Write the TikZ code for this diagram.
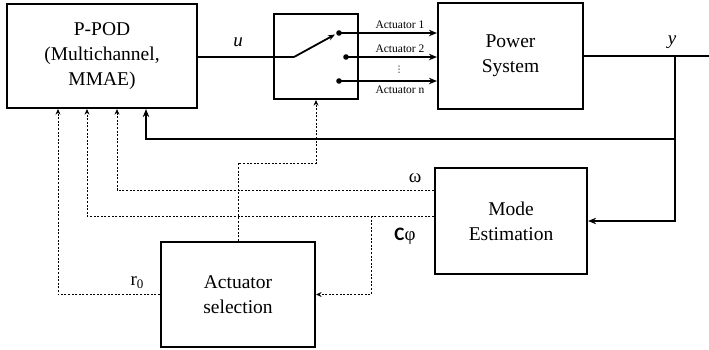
\documentclass[tikz,border=0pt]{standalone}
\usepackage{fontspec}
\setmainfont{Liberation Serif}
\newfontfamily\carlito{Carlito}
\newfontfamily\dejavu{DejaVu Sans}
\usetikzlibrary{arrows.meta,calc}
\begin{document}
\begin{tikzpicture}[x=1pt,y=-1pt,
 box/.style={draw, line width=2.2pt, inner sep=0pt, align=center, font=\fontsize{19.5}{25}\selectfont},
 sig/.style={line width=2.2pt},
 sarrow/.style={sig,-{Stealth[length=8pt,width=6.5pt]}},
 dotl/.style={line width=1pt, dash pattern=on 2pt off 1.6pt},
 darrow/.style={dotl,-{Stealth[length=5.5pt,width=5pt]}},
 small/.style={font=\fontsize{11.5}{12}\selectfont, inner sep=0pt},
 lbl/.style={font=\fontsize{19}{20}\selectfont, inner sep=0pt}
]
\useasboundingbox (0,0) rectangle (709,349);

\node[box, minimum width=190pt, minimum height=104pt] (ppod) at (102,56) {P-POD\\(Multichannel,\\MMAE)};
\node[box, minimum width=84pt, minimum height=85pt] (sw) at (316,56.5) {};
\node[box, minimum width=145pt, minimum height=106pt] (ps) at (510.5,56) {Power\\System};
\node[box, minimum width=152pt, minimum height=106pt] (me) at (511,221) {Mode\\Estimation};
\node[box, minimum width=154pt, minimum height=105pt] (as) at (238,294.5) {Actuator\\selection};

% switch
\coordinate (piv) at (294,57);
\coordinate (d1) at (339,33);
\coordinate (d2) at (346,57);
\coordinate (d3) at (339,81);
\coordinate (swtip) at (335,34.5);
\draw[sig] (ppod.east |- piv) -- (piv);
\draw[line width=1.8pt,-{Stealth[length=7pt,width=5.5pt]}] (piv) -- (swtip);
\foreach \d in {d1,d2,d3} \fill (\d) circle (2.8pt);
\draw[sarrow] (d1) -- (ps.west |- d1);
\draw[sarrow] (d2) -- (ps.west |- d2);
\draw[sarrow] (d3) -- (ps.west |- d3);
\node[small] (a1) at (400,25) {Actuator 1};
\node[small] (a2) at (400,49) {Actuator 2};
\node[font=\dejavu\fontsize{9}{9}\selectfont, inner sep=0pt] (av) at (399,70) {⋮};
\node[small] (an) at (400,90) {Actuator n};

\node[lbl, font=\fontsize{19}{20}\selectfont\itshape] (u) at (238,42) {u};
\node[lbl, font=\fontsize{19}{20}\selectfont\itshape] (ylab) at (672,42) {y};

% output and feedback
\coordinate (br) at (675,56);
\coordinate (yend) at (709,56);
\coordinate (fb) at (146,139);
\draw[sig] (ps.east) -- (yend);
\draw[sarrow] (br) |- (fb) -- (fb |- ppod.south);
\draw[sarrow] (br) |- (me.east);

% dotted signals
\coordinate (wL) at (117,190);
\coordinate (cL) at (87,216);
\coordinate (cB) at (371,216);
\coordinate (rL) at (58,295);
\coordinate (k) at (238,163);
\draw[darrow] (me.west |- wL) -- (wL) -- (wL |- ppod.south);
\draw[darrow] (me.west |- cL) -- (cL) -- (cL |- ppod.south);
\draw[darrow] (cB) |- (as.east);
\draw[darrow] (as.west) -| (rL |- ppod.south);
\draw[darrow] (as.north) -- (k) -| (sw.south);

\node[lbl] (wlab) at (415,178) {ω};
\node[lbl] (clab) at (405,236) {{\carlito\bfseries C}φ};
\node[lbl] (rlab) at (137,283) {r\raisebox{-3pt}{\fontsize{13}{13}\selectfont 0}};
\end{tikzpicture}
\end{document}
